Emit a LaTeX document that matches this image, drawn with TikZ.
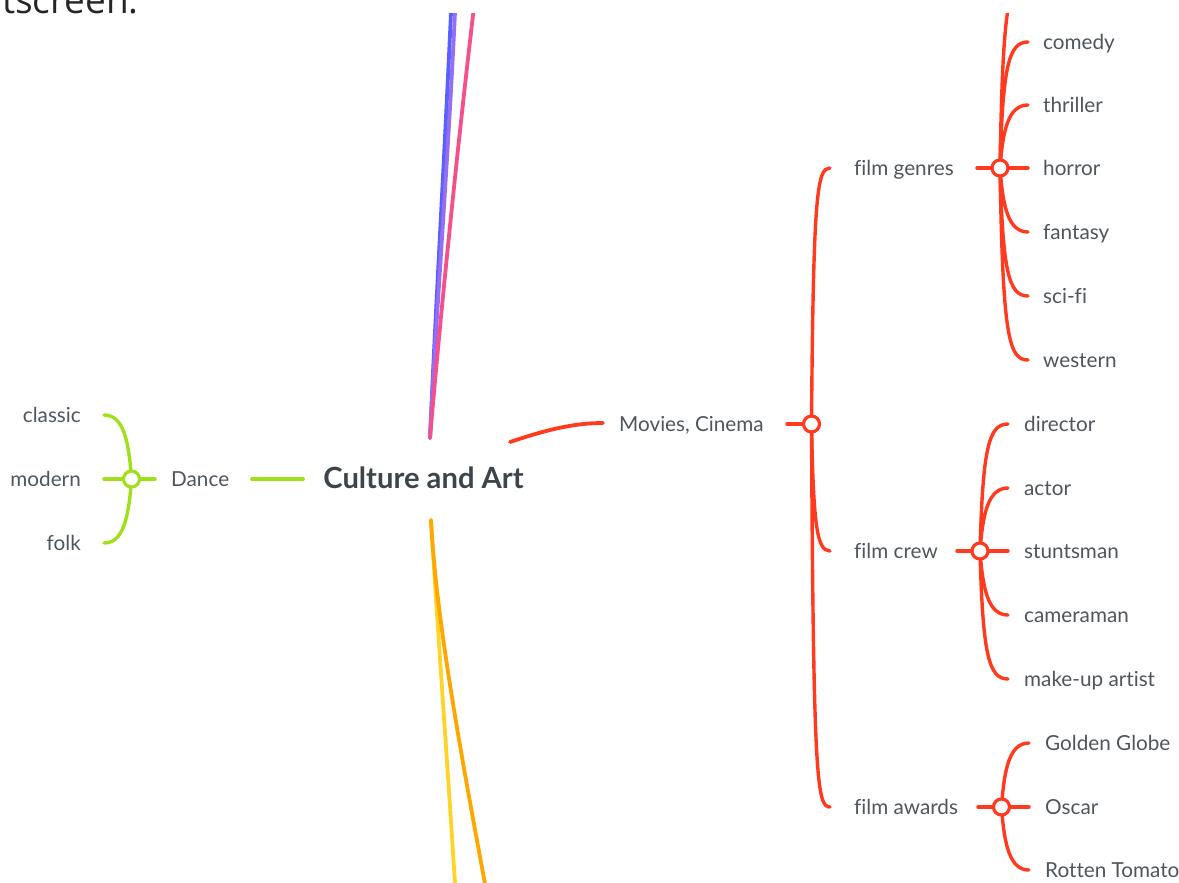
\documentclass[tikz,border=0pt]{standalone}
\usepackage{fontspec}
\setmainfont{Lato}[Ligatures=NoCommon]
\newfontfamily\osfont{Open Sans}
\usetikzlibrary{calc}
\definecolor{cred}{RGB}{255,58,30}
\definecolor{cgreen}{RGB}{160,224,26}
\definecolor{cblue}{RGB}{88,96,255}
\definecolor{cpurple}{RGB}{160,112,240}
\definecolor{cpink}{RGB}{245,80,140}
\definecolor{cyellow}{RGB}{255,212,40}
\definecolor{corange}{RGB}{255,166,0}
\definecolor{ctext}{RGB}{78,85,92}
\definecolor{ctitle}{RGB}{60,68,76}
\begin{document}
\begin{tikzpicture}[x=1pt,y=-1pt,line cap=round,
  branch/.style={to path={let \p1=(\tikztostart),\p2=(\tikztotarget),\n1={sign(\y2-\y1)} in
     .. controls ({\x1+0.1*(\x2-\x1)},{\y2-\n1*25}) and ({\x1+0.3*(\x2-\x1)},\y2) .. (\tikztotarget)}},
  lbl/.style={font=\fontsize{20.7}{23}\selectfont, text=ctext, inner sep=0pt, text height=15pt, text depth=0pt, anchor=west},
  lbll/.style={lbl, anchor=east},
  junc/.style={circle, draw, fill=white, line width=3.2pt, minimum size=16pt, inner sep=0pt},
  ln/.style={line width=3.4pt},
  ml/.style={line width=3.8pt}]
\useasboundingbox (0,0) rectangle (1179,883);
\node[font=\osfont\fontsize{37}{40}\selectfont, anchor=base east, inner sep=0pt, text=black!85] (top) at (139,14) {itscreen.};
\begin{scope}
\clip (0,14) rectangle (1179,883);
% root
\node[font=\fontsize{29.2}{32}\selectfont\bfseries, text=ctitle, inner sep=0pt, text height=18pt, text depth=0pt] (root) at (423.5,479) {Culture and Art};
\coordinate (rT) at (430,438);
\coordinate (rB) at (431,520);
\coordinate (rR) at (510,442);
\coordinate (rL) at (303,479);
% top branches (continuing off picture)
\coordinate (bE) at (452,-10);
\coordinate (pE) at (456,-10);
\coordinate (kE) at (476,-10);
\draw[ml,cblue] (rT) .. controls (436,300) and (445,150) .. (bE);
\draw[ml,cpurple!85!cblue] (rT) .. controls (437,300) and (449,150) .. (pE);
\draw[ml,cpink] (rT) .. controls (440,320) and (458,140) .. (kE);
% bottom branches
\coordinate (yE) at (456,900);
\coordinate (oE) at (488,900);
\draw[ml,cyellow] (rB) .. controls (437,620) and (450,800) .. (yE);
\draw[ml,corange] (rB) .. controls (436,620) and (462,760) .. (oE);
% Dance
\node[lbl] (dance) at (171,479) {Dance};
\coordinate (dR) at (252,479);
\draw[ml,cgreen] (dR) -- (rL);
\coordinate (gj) at (131.5,479);
\coordinate (gs) at (155,479);
\coordinate (gm) at (104,479);
\coordinate (gc) at (104,415);
\coordinate (gf) at (104,543);
\draw[ln,cgreen] (gm) -- (gs);
\draw[ln,cgreen] (gj) to[branch] (gc);
\draw[ln,cgreen] (gj) to[branch] (gf);
\node[junc,draw=cgreen] (gJ) at (gj) {};
\node[lbll] (classic) at (81,415) {classic};
\node[lbll] (modern) at (81,479) {modern};
\node[lbll] (folk) at (81,543) {folk};
% Movies
\coordinate (mL) at (603,423);
\draw[ml,cred] (rR) .. controls (540,432) and (570,423) .. (mL);
\node[lbl] (movies) at (619,424) {Movies, Cinema};
\coordinate (mj) at (811.5,424);
\coordinate (mS) at (787,424);
\coordinate (gnL) at (830,168);
\coordinate (crL) at (830,551);
\coordinate (awL) at (830,807);
\draw[ln,cred] (mS) -- (mj);
\draw[ln,cred] (mj) to[branch] (gnL);
\draw[ln,cred] (mj) to[branch] (crL);
\draw[ln,cred] (mj) to[branch] (awL);
\node[junc,draw=cred] (mJ) at (mj) {};
\node[lbl] (genres) at (854,168) {film genres};
\node[lbl] (crew) at (854,551) {film crew};
\node[lbl] (awards) at (854,807) {film awards};
% genres
\coordinate (gnj) at (1000,168);
\coordinate (gnS) at (977,168);
\coordinate (g0) at (1028,-22);
\coordinate (g1) at (1028,42);
\coordinate (g2) at (1028,105);
\coordinate (g3) at (1028,168);
\coordinate (g4) at (1028,232);
\coordinate (g5) at (1028,296);
\coordinate (g6) at (1028,360);
\draw[ln,cred] (gnS) -- (g3);
\foreach \c in {g0,g1,g2,g4,g5,g6} \draw[ln,cred] (gnj) to[branch] (\c);
\node[junc,draw=cred] (gnJ) at (gnj) {};
\node[lbl] (comedy) at (1043,42) {comedy};
\node[lbl] (thriller) at (1043,105) {thriller};
\node[lbl] (horror) at (1043,168) {horror};
\node[lbl] (fantasy) at (1043,232) {fantasy};
\node[lbl] (scifi) at (1043,296) {sci-fi};
\node[lbl] (western) at (1043,360) {western};
% crew
\coordinate (crj) at (980,551);
\coordinate (crS) at (957,551);
\coordinate (c1) at (1008,424);
\coordinate (c2) at (1008,488);
\coordinate (c3) at (1008,551);
\coordinate (c4) at (1008,615);
\coordinate (c5) at (1008,679);
\draw[ln,cred] (crS) -- (c3);
\foreach \c in {c1,c2,c4,c5} \draw[ln,cred] (crj) to[branch] (\c);
\node[junc,draw=cred] (crJ) at (crj) {};
\node[lbl] (director) at (1024,424) {director};
\node[lbl] (actor) at (1024,488) {actor};
\node[lbl] (stunt) at (1024,551) {stuntsman};
\node[lbl] (camera) at (1024,615) {cameraman};
\node[lbl] (makeup) at (1024,679) {make-up artist};
% awards
\coordinate (awj) at (1001.5,807);
\coordinate (awS) at (978,807);
\coordinate (a1) at (1029,743);
\coordinate (a2) at (1029,807);
\coordinate (a3) at (1029,870);
\draw[ln,cred] (awS) -- (a2);
\foreach \c in {a1,a3} \draw[ln,cred] (awj) to[branch] (\c);
\node[junc,draw=cred] (awJ) at (awj) {};
\node[lbl] (globe) at (1045,743) {Golden Globe};
\node[lbl] (oscar) at (1045,807) {Oscar};
\node[lbl] (rotten) at (1045,870) {Rotten Tomato};
\end{scope}
\end{tikzpicture}
\end{document}
